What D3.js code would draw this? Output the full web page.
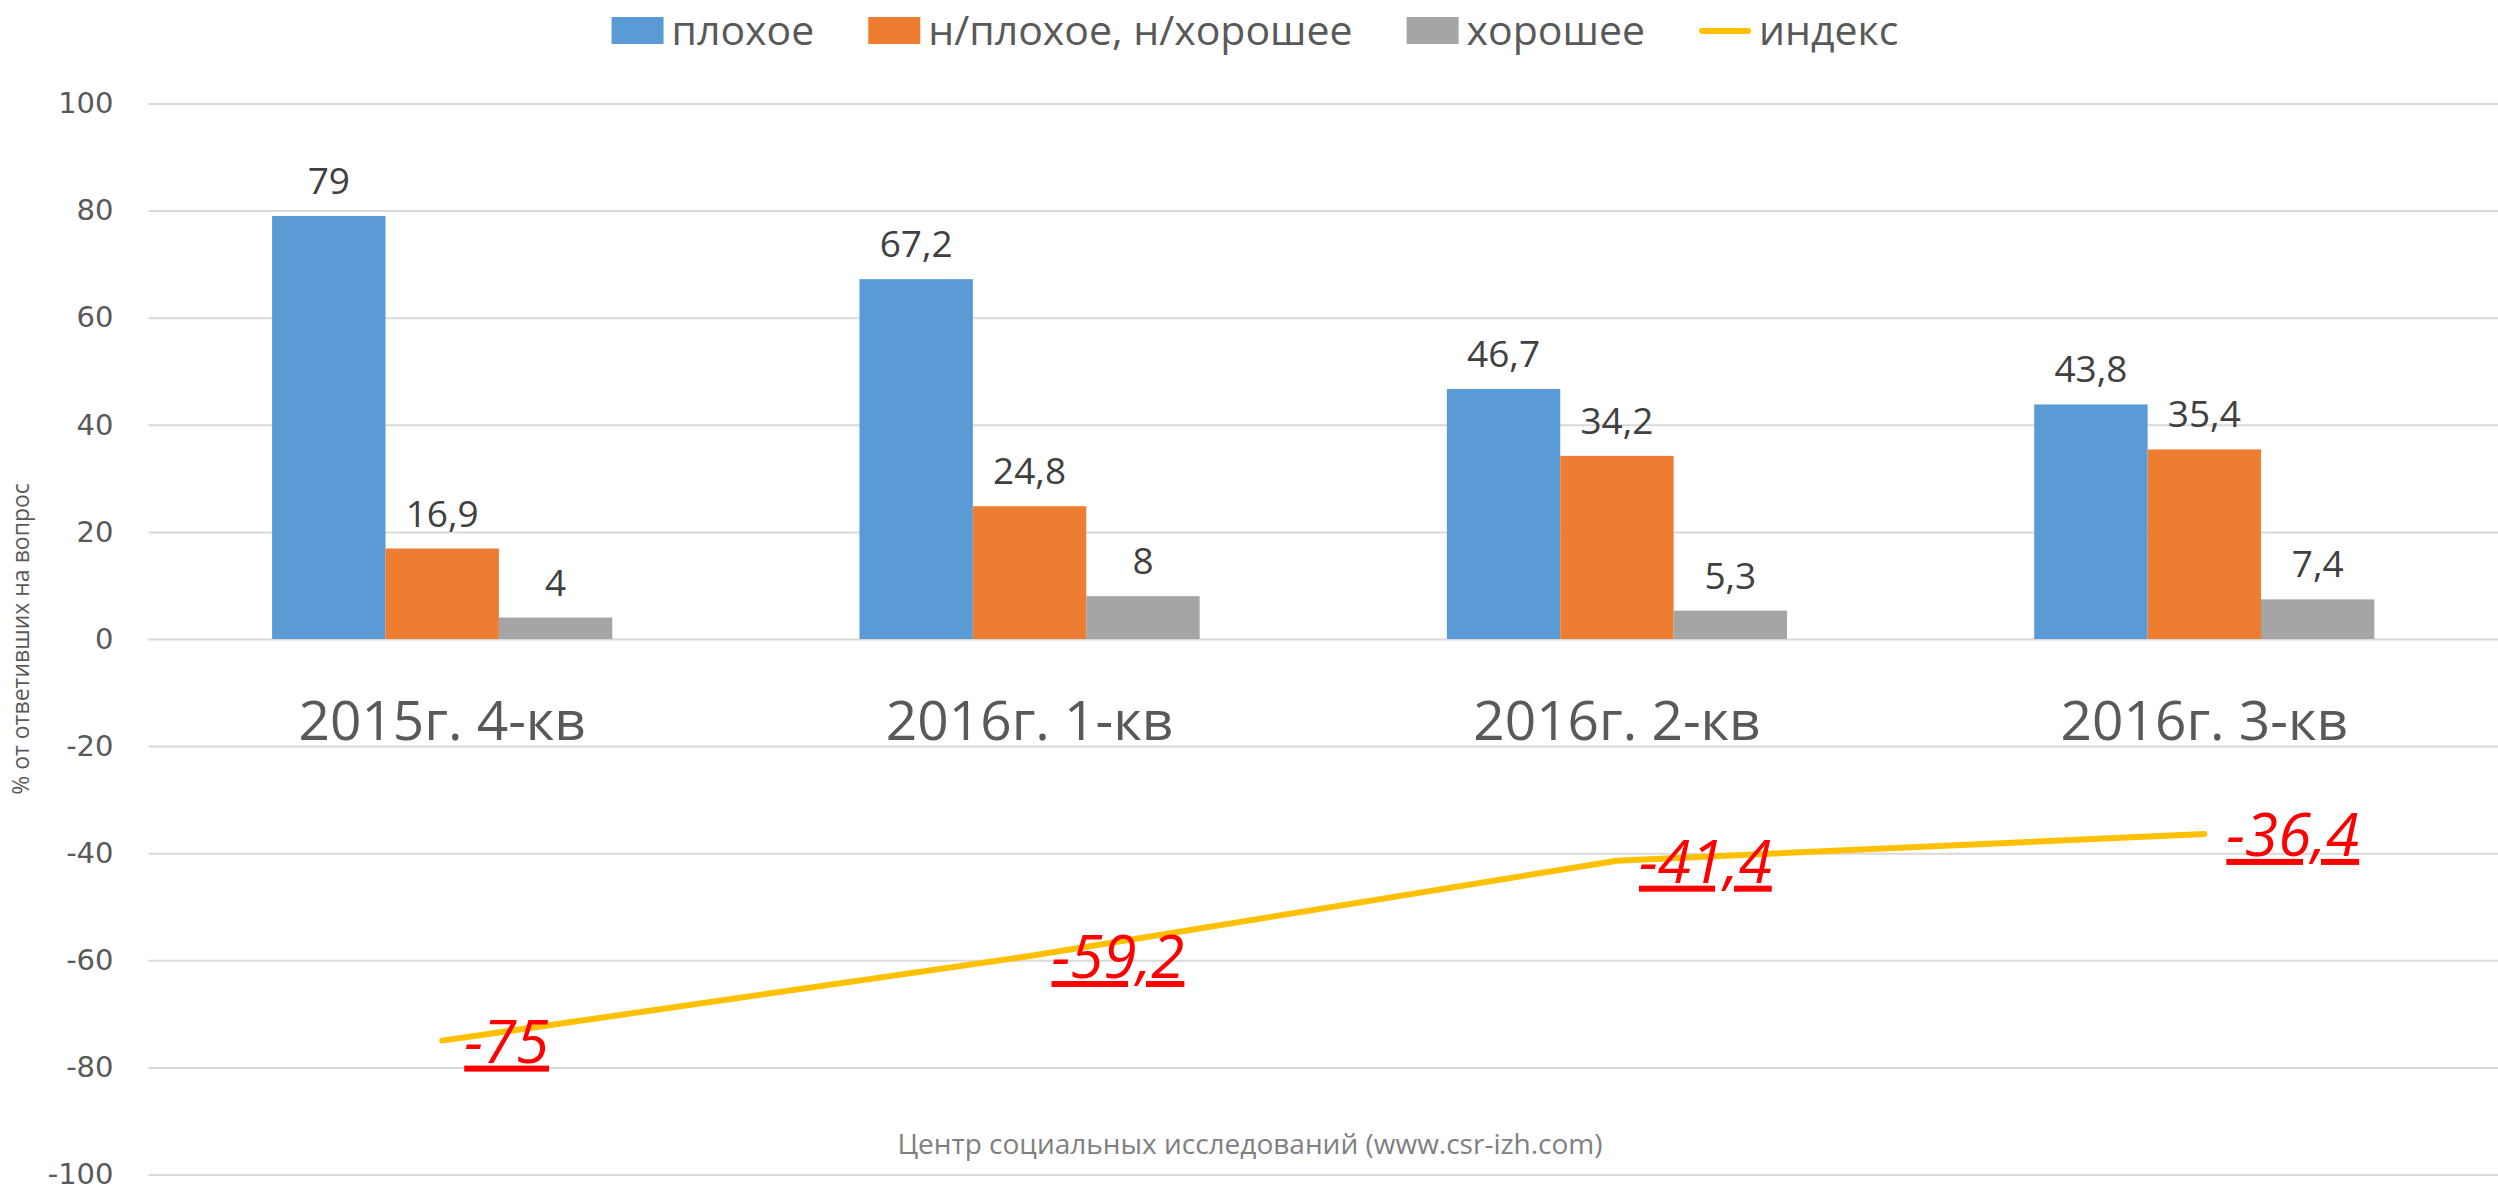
<!DOCTYPE html>
<html>
<head>
<meta charset="utf-8">
<script src="https://cdn.jsdelivr.net/npm/d3@7"></script>
<style>
  html, body { margin: 0; padding: 0; background: #fff; }
  svg { display: block; }
</style>
</head>
<body>
<svg id="chart"></svg>
<script>
"use strict";

// data
const categories = ["2015г. 4-кв", "2016г. 1-кв", "2016г. 2-кв", "2016г. 3-кв"];
const seriesNames = ["плохое", "н/плохое, н/хорошее", "хорошее"];
const badValues = [79, 67.2, 46.7, 43.8];
const neutralValues = [16.9, 24.8, 34.2, 35.4];
const goodValues = [4, 8, 5.3, 7.4];
const indexName = "индекс";
const indexValues = [-75, -59.2, -41.4, -36.4];
const yTicks = [100, 80, 60, 40, 20, 0, -20, -40, -60, -80, -100];
const yTitle = "% от ответивших на вопрос";
const sourceNote = "Центр социальных исследований (www.csr-izh.com)";

const colors = ["#5B9BD5", "#ED7D31", "#A5A5A5"];
const lineColor = "#FFC000";

const svgWidth = 2498, svgHeight = 1189;
const margin = { top: 103.5, right: 0, bottom: 14.5, left: 148.5 };
const width = svgWidth - margin.left - margin.right;
const height = svgHeight - margin.top - margin.bottom;

const sans = "'Open Sans', 'Noto Sans', sans-serif";

const root = d3.select("#chart")
  .attr("width", svgWidth)
  .attr("height", svgHeight);

const svg = root.append("g")
  .attr("transform", `translate(${margin.left},${margin.top})`);

const fmt = v => String(v).replace(".", ",");

// scales
const x0 = d3.scaleBand().domain(categories).range([0, width]);
const x1 = d3.scaleBand().domain(seriesNames)
  .range([0, x0.bandwidth()])
  .paddingOuter(1.09);
const y = d3.scaleLinear().domain([-100, 100]).range([height, 0]);

// gridlines + y labels
const yAxis = d3.axisLeft(y)
  .tickValues(yTicks)
  .tickSize(-width)
  .tickPadding(35)
  .tickFormat(d => d);

const yg = svg.append("g").call(yAxis);
yg.select(".domain").remove();
yg.selectAll(".tick line").attr("stroke", "#D9D9D9").attr("stroke-width", 2);
yg.selectAll(".tick text")
  .attr("fill", "#595959")
  .style("font-family", "'DejaVu Sans', sans-serif")
  .style("font-size", "29px");

// y title
root.append("text")
  .attr("transform", `translate(29,${margin.top + y(0)}) rotate(-90)`)
  .attr("text-anchor", "middle")
  .attr("fill", "#595959")
  .style("font-family", sans)
  .style("font-size", "23px")
  .text(yTitle);

// bars
const rows = categories.map((c, i) => ({
  cat: c,
  vals: [badValues[i], neutralValues[i], goodValues[i]]
}));

const groups = svg.selectAll(".grp")
  .data(rows)
  .enter()
  .append("g")
  .attr("class", "grp")
  .attr("transform", d => `translate(${x0(d.cat)},0)`);

const cells = groups.selectAll("g.cell")
  .data(d => d.vals.map((v, k) => ({ name: seriesNames[k], v: v, k: k })))
  .enter()
  .append("g")
  .attr("class", "cell");

cells.append("rect")
  .attr("x", d => x1(d.name))
  .attr("y", d => y(d.v))
  .attr("width", x1.bandwidth())
  .attr("height", d => y(0) - y(d.v))
  .attr("fill", d => colors[d.k]);

cells.append("text")
  .attr("x", d => x1(d.name) + x1.bandwidth() / 2)
  .attr("y", d => y(d.v) - 22)
  .attr("text-anchor", "middle")
  .attr("fill", "#404040")
  .style("font-family", sans)
  .style("font-size", "37px")
  .text(d => fmt(d.v));

// category labels sit inside the plot
svg.selectAll(".cat")
  .data(categories)
  .enter()
  .append("text")
  .attr("class", "cat")
  .attr("x", d => x0(d) + x0.bandwidth() / 2)
  .attr("y", y(0) + 101)
  .attr("text-anchor", "middle")
  .attr("fill", "#595959")
  .style("font-family", sans)
  .style("font-size", "55px")
  .text(d => d);

// index line
const pts = categories.map((c, i) => ({ x: x0(c) + x0.bandwidth() / 2, v: indexValues[i] }));

svg.append("path")
  .datum(pts)
  .attr("fill", "none")
  .attr("stroke", lineColor)
  .attr("stroke-width", 6)
  .attr("stroke-linecap", "round")
  .attr("stroke-linejoin", "round")
  .attr("d", d3.line().x(d => d.x).y(d => y(d.v)));

svg.selectAll(".idx")
  .data(pts)
  .enter()
  .append("text")
  .attr("class", "idx")
  .attr("x", d => d.x + 22)
  .attr("y", d => y(d.v) + 22)
  .attr("fill", "#FF0000")
  .style("font-family", sans)
  .style("font-style", "italic")
  .style("font-size", "60px")
  .style("text-decoration", "underline")
  .text(d => fmt(d.v));

// source note
root.append("text")
  .attr("x", 1250)
  .attr("y", 1154)
  .attr("text-anchor", "middle")
  .attr("fill", "#808080")
  .style("font-family", sans)
  .style("font-size", "28px")
  .text(sourceNote);

// legend, laid out from measured text widths
const legendItems = seriesNames.map((n, k) => ({ name: n, color: colors[k], line: false }))
  .concat([{ name: indexName, color: lineColor, line: true }]);

const legend = root.append("g");
let cursor = 0;
legendItems.forEach(item => {
  const g = legend.append("g").attr("transform", `translate(${cursor},0)`);
  if (item.line) {
    g.append("line")
      .attr("x1", 3).attr("x2", 49)
      .attr("y1", 31).attr("y2", 31)
      .attr("stroke", item.color)
      .attr("stroke-width", 6)
      .attr("stroke-linecap", "round");
  } else {
    g.append("rect")
      .attr("x", 0).attr("y", 17)
      .attr("width", 52).attr("height", 27)
      .attr("fill", item.color);
  }
  const t = g.append("text")
    .attr("x", 60)
    .attr("y", 45)
    .attr("fill", "#595959")
    .style("font-family", sans)
    .style("font-size", "41px")
    .text(item.name);
  cursor += 60 + t.node().getComputedTextLength() + 54;
});
const legendWidth = cursor - 54;
legend.attr("transform", `translate(${1255 - legendWidth / 2},0)`);
</script>
</body>
</html>
